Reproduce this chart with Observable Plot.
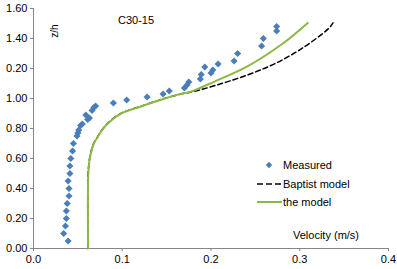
<!DOCTYPE html>
<html>
<head>
<meta charset="utf-8">
<script src="https://cdn.jsdelivr.net/npm/d3@7"></script>
<script src="https://cdn.jsdelivr.net/npm/@observablehq/plot@0.6"></script>
<style>
  html, body { margin: 0; padding: 0; background: #fff; }
  #chart { position: relative; width: 397px; height: 269px; }
</style>
</head>
<body>
<div id="chart"></div>
<script>
// Measured points (velocity m/s, z/h)
const measuredV = [0.039,0.034,0.036,0.037,0.037,0.038,0.040,0.040,0.039,0.041,0.041,0.042,0.044,0.045,
  0.049,0.050,0.051,0.053,0.055,0.059,0.061,0.063,0.066,0.068,0.070,0.090,0.105,0.128,0.146,0.153,
  0.170,0.173,0.175,0.188,0.189,0.193,0.200,0.202,0.208,0.226,0.230,0.257,0.259,0.274,0.274];
const measuredZ = [0.05,0.10,0.15,0.20,0.25,0.30,0.35,0.40,0.45,0.50,0.55,0.60,0.65,0.70,
  0.75,0.77,0.79,0.82,0.83,0.89,0.86,0.87,0.92,0.94,0.95,0.97,0.99,1.01,1.03,1.05,
  1.07,1.09,1.11,1.13,1.16,1.21,1.17,1.19,1.23,1.25,1.30,1.35,1.40,1.45,1.48];

// Baptist model (dashed)
const baptistV = [0.0613,0.0613,0.0623,0.0642,0.0678,0.0718,0.0755,0.0828,0.0975,0.1205,0.1465,0.1700,0.1810,0.2110,0.2415,0.2715,0.3017,0.3320,0.3375];
const baptistZ = [0.00,0.45,0.56,0.63,0.70,0.74,0.776,0.83,0.898,0.947,0.998,1.035,1.047,1.098,1.158,1.231,1.331,1.464,1.504];

// The model (green)
const modelV = [0.0615,0.0615,0.0625,0.0644,0.068,0.072,0.0757,0.083,0.098,0.121,0.147,0.166,0.177,0.204,0.2415,0.279,0.309];
const modelZ = [0.00,0.45,0.56,0.63,0.70,0.74,0.776,0.83,0.898,0.947,0.998,1.031,1.045,1.113,1.216,1.358,1.504];

// Tick labels
const xTicks = [0, 0.1, 0.2, 0.3, 0.4];
const xLabels = ["0.0", "0.1", "0.2", "0.3", "0.4"];
const yTicks = [0, 0.2, 0.4, 0.6, 0.8, 1.0, 1.2, 1.4, 1.6];
const yLabels = ["0.00", "0.20", "0.40", "0.60", "0.80", "1.00", "0.20", "1.40", "1.60"];

const seriesNames = ["Measured", "Baptist model", "the model"];
const chartTitle = "C30-15";
const xTitle = "Velocity (m/s)";
const yTitle = "z/h";

const measured = measuredV.map((v, i) => ({v, z: measuredZ[i]}));
const baptist = baptistV.map((v, i) => ({v, z: baptistZ[i]}));
const model = modelV.map((v, i) => ({v, z: modelZ[i]}));

const blue = "#4A7EBB";
const green = "#8DB846";
const axisGrey = "#868686";
const font = "'Liberation Sans', Arial, sans-serif";

const plot = Plot.plot({
  width: 397,
  height: 269,
  marginLeft: 33,
  marginRight: 9,
  marginTop: 8,
  marginBottom: 21,
  style: {fontFamily: font, fontSize: "11px", background: "#fff", color: "#000"},
  x: {domain: [0, 0.4]},
  y: {domain: [0, 1.6]},
  marks: [
    Plot.axisX({ticks: xTicks, tickFormat: (d, i) => xLabels[i], tickSize: 3, tickPadding: 4, stroke: axisGrey, fill: "#000", label: null}),
    Plot.axisY({ticks: yTicks, tickFormat: (d, i) => yLabels[i], tickSize: 3, tickPadding: 3, stroke: axisGrey, fill: "#000", label: null}),
    Plot.ruleX([0], {stroke: axisGrey, strokeWidth: 1}),
    Plot.ruleY([0], {stroke: axisGrey, strokeWidth: 1}),
    Plot.dot(measured, {x: "v", y: "z", symbol: "diamond2", r: 3.2, fill: blue, stroke: "none"}),
    Plot.line(baptist, {x: "v", y: "z", stroke: "#000", strokeWidth: 1.5, strokeDasharray: "5,3", curve: "catmull-rom"}),
    Plot.line(model, {x: "v", y: "z", stroke: green, strokeWidth: 2, curve: "catmull-rom"})
  ]
});

document.getElementById("chart").appendChild(plot);

// Annotations and legend
const svg = d3.select(plot);
const g = svg.append("g").attr("font-family", font).attr("fill", "#000").attr("text-anchor", "start");
g.append("text").attr("x", 118).attr("y", 24).attr("font-size", 11).text(chartTitle);
g.append("text").attr("transform", "translate(58,31) rotate(-90)").attr("text-anchor", "middle").attr("font-size", 10).text(yTitle);
g.append("text").attr("x", 293).attr("y", 239).attr("font-size", 11).text(xTitle);

const lg = g.append("g");
lg.append("path").attr("d", d3.symbol(d3.symbolDiamond2, 26)()).attr("transform", "translate(269,165)").attr("fill", blue);
lg.append("text").attr("x", 283).attr("y", 169).attr("font-size", 11).text(seriesNames[0]);
lg.append("line").attr("x1", 257).attr("x2", 282).attr("y1", 184).attr("y2", 184).attr("stroke", "#000").attr("stroke-width", 1.5).attr("stroke-dasharray", "6,3");
lg.append("text").attr("x", 283).attr("y", 188).attr("font-size", 11).text(seriesNames[1]);
lg.append("line").attr("x1", 257).attr("x2", 282).attr("y1", 202).attr("y2", 202).attr("stroke", green).attr("stroke-width", 2);
lg.append("text").attr("x", 283).attr("y", 206).attr("font-size", 11).text(seriesNames[2]);
</script>
</body>
</html>
